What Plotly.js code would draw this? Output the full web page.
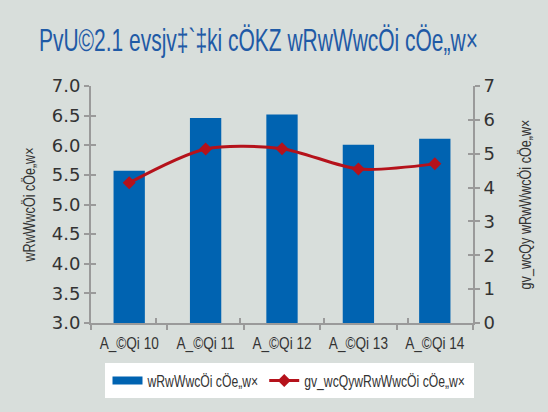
<!DOCTYPE html>
<html>
<head>
<meta charset="utf-8">
<script src="https://cdn.plot.ly/plotly-3.0.1.min.js"></script>
<style>body{margin:0;background:#d8dedb;} #chart{width:548px;height:412px;}</style>
</head>
<body>
<div id="chart"></div>
<script>
const categories = ["A_©Qi 10", "A_©Qi 11", "A_©Qi 12", "A_©Qi 13", "A_©Qi 14"];
const gdpGrowth = [5.57, 6.46, 6.52, 6.01, 6.11];
const perCapitaGrowth = [4.14, 5.14, 5.15, 4.55, 4.70];
const leftTicks = [3.0, 3.5, 4.0, 4.5, 5.0, 5.5, 6.0, 6.5, 7.0];
const rightTicks = [0, 1, 2, 3, 4, 5, 6, 7];
const titleText = "PvU©2.1 evsjv‡`‡ki cÖKZ wRwWwcÖi cÖe„w×";
const leftTitle = "wRwWwcÖi cÖe„w×";
const rightTitle = "gv_wcQy wRwWwcÖi cÖe„w×";
const barName = "wRwWwcÖi cÖe„w×";
const lineName = "gv_wcQywRwWwcÖi cÖe„w×";

const NARROW = "'Liberation Sans', Arial, sans-serif";
const DIGITS = "'DejaVu Sans', sans-serif";
const AX = "#9a9a9a";
const LEG_LAYOUT_SIZE = 12.2;   // size used for legend layout
const LEG_SHOWN_SIZE = 17;      // size shown (horizontally condensed to the same width)

const traces = [
  {type: "bar", x: categories, y: gdpGrowth, name: barName, marker: {color: "#0063b1"}, width: 0.41, yaxis: "y"},
  {type: "scatter", mode: "lines+markers", x: categories, y: perCapitaGrowth, name: lineName, yaxis: "y2",
   line: {color: "#b5121b", width: 3, shape: "spline", smoothing: 0.8},
   marker: {symbol: "diamond", size: 10, color: "#b5121b"}},
  {type: "scatter", x: categories, y: gdpGrowth, xaxis: "x2", yaxis: "y3", mode: "markers",
   marker: {opacity: 0}, showlegend: false, hoverinfo: "skip"},
  {type: "scatter", x: categories, y: perCapitaGrowth, xaxis: "x2", yaxis: "y4", mode: "markers",
   marker: {opacity: 0}, showlegend: false, hoverinfo: "skip"}
];

const layout = {
  width: 548, height: 412,
  paper_bgcolor: "#d8dedb", plot_bgcolor: "#d8dedb",
  margin: {l: 91, r: 75, t: 86, b: 89, autoexpand: false},
  font: {family: DIGITS, color: "#333333", size: 16},
  title: {text: titleText, font: {family: NARROW, size: 32, color: "#1f5aa6"},
          x: 39 / 548, xanchor: "left", xref: "container", y: 1 - 51 / 412, yanchor: "bottom", yref: "container"},
  showlegend: true,
  legend: {orientation: "h", x: 289 / 548, xanchor: "center", xref: "container", y: 1 - 363 / 412, yanchor: "top", yref: "container",
           bgcolor: "#ffffff", bordercolor: "#ffffff", borderwidth: 3,
           font: {family: NARROW, size: LEG_LAYOUT_SIZE, color: "#333333"}, traceorder: "normal",
           itemwidth: 30, tracegroupgap: 0},
  bargap: 0.59,
  xaxis: {type: "category", showline: true, linecolor: AX, linewidth: 2, ticks: "outside", tickson: "boundaries",
          ticklen: 5, tickwidth: 2, tickcolor: AX, showgrid: false, tickangle: 0, ticklabelstandoff: 5,
          tickfont: {family: NARROW, size: 16, color: "#333333"}},
  yaxis: {range: [3, 7], tickvals: leftTicks, ticktext: leftTicks.map(v => v.toFixed(1)), showline: true, linecolor: AX, linewidth: 2,
          ticks: "outside", ticklen: 5, tickwidth: 2, tickcolor: AX, showgrid: false, zeroline: false,
          tickfont: {size: 18, color: "#333333"},
          title: {text: leftTitle, font: {family: NARROW, size: 17, color: "#333333"}, standoff: 12}},
  yaxis2: {range: [0, 7], tickvals: rightTicks, overlaying: "y", side: "right", showline: true, linecolor: AX, linewidth: 2,
           ticks: "outside", ticklen: 5, tickwidth: 2, tickcolor: AX, showgrid: false, zeroline: false,
           tickfont: {size: 18, color: "#333333"},
           title: {text: rightTitle, font: {family: NARROW, size: 17, color: "#333333"}, standoff: 25}},
  yaxis3: {range: [3, 7], tickvals: leftTicks, overlaying: "y", side: "left", ticks: "inside", ticklen: 5, tickwidth: 2,
           tickcolor: AX, showticklabels: false, showgrid: false, zeroline: false, showline: false},
  yaxis4: {range: [0, 7], tickvals: rightTicks, overlaying: "y", side: "right", ticks: "inside", ticklen: 5, tickwidth: 2,
           tickcolor: AX, showticklabels: false, showgrid: false, zeroline: false, showline: false},
  xaxis2: {type: "category", overlaying: "x", ticks: "inside", tickson: "boundaries", ticklen: 5, tickwidth: 2,
           tickcolor: AX, showticklabels: false, showgrid: false, showline: false, anchor: "y", side: "bottom"}
};

function squeeze(el, sx) {
  const x = parseFloat(el.getAttribute("x")) || 0, y = parseFloat(el.getAttribute("y")) || 0;
  const tr = el.getAttribute("transform") || "";
  el.setAttribute("transform", tr + " translate(" + x + "," + y + ") scale(" + sx + ",1) translate(" + (-x) + "," + (-y) + ")");
}
function squeezeTo(el, target) {
  const w = el.getComputedTextLength();
  if (w > 0) squeeze(el, target / w);
}
function once(el) {
  if (el.getAttribute("data-sq")) return false;
  el.setAttribute("data-sq", "1");
  return true;
}

function finish(gd) {
  const t = gd.querySelector(".gtitle"); if (t && once(t)) squeezeTo(t, 439);
  const yt = gd.querySelector(".ytitle"); if (yt && once(yt)) squeezeTo(yt, 114);
  const y2t = gd.querySelector(".y2title"); if (y2t && once(y2t)) squeezeTo(y2t, 170);
  gd.querySelectorAll(".xtick text").forEach(e => { if (once(e)) squeeze(e, 0.85); });
  gd.querySelectorAll(".legend .legendpoints path").forEach(p => {
    if (p.getAttribute("d") === "M6,6H-6V-6H6Z") p.setAttribute("d", "M15,4H-15V-4H15Z");
  });
  gd.querySelectorAll(".legend .legendtext").forEach(e => {
    if (!once(e)) return;
    const w = e.getComputedTextLength();
    e.style.setProperty("font-size", LEG_SHOWN_SIZE + "px");
    e.setAttribute("y", (0.3 * 1.3 * LEG_SHOWN_SIZE).toFixed(2));
    squeezeTo(e, w);
  });
}

Plotly.newPlot("chart", traces, layout, {displayModeBar: false, staticPlot: true}).then(gd => {
  finish(gd);
  setTimeout(() => finish(gd), 30);
  setTimeout(() => finish(gd), 200);
});
</script>
</body>
</html>
